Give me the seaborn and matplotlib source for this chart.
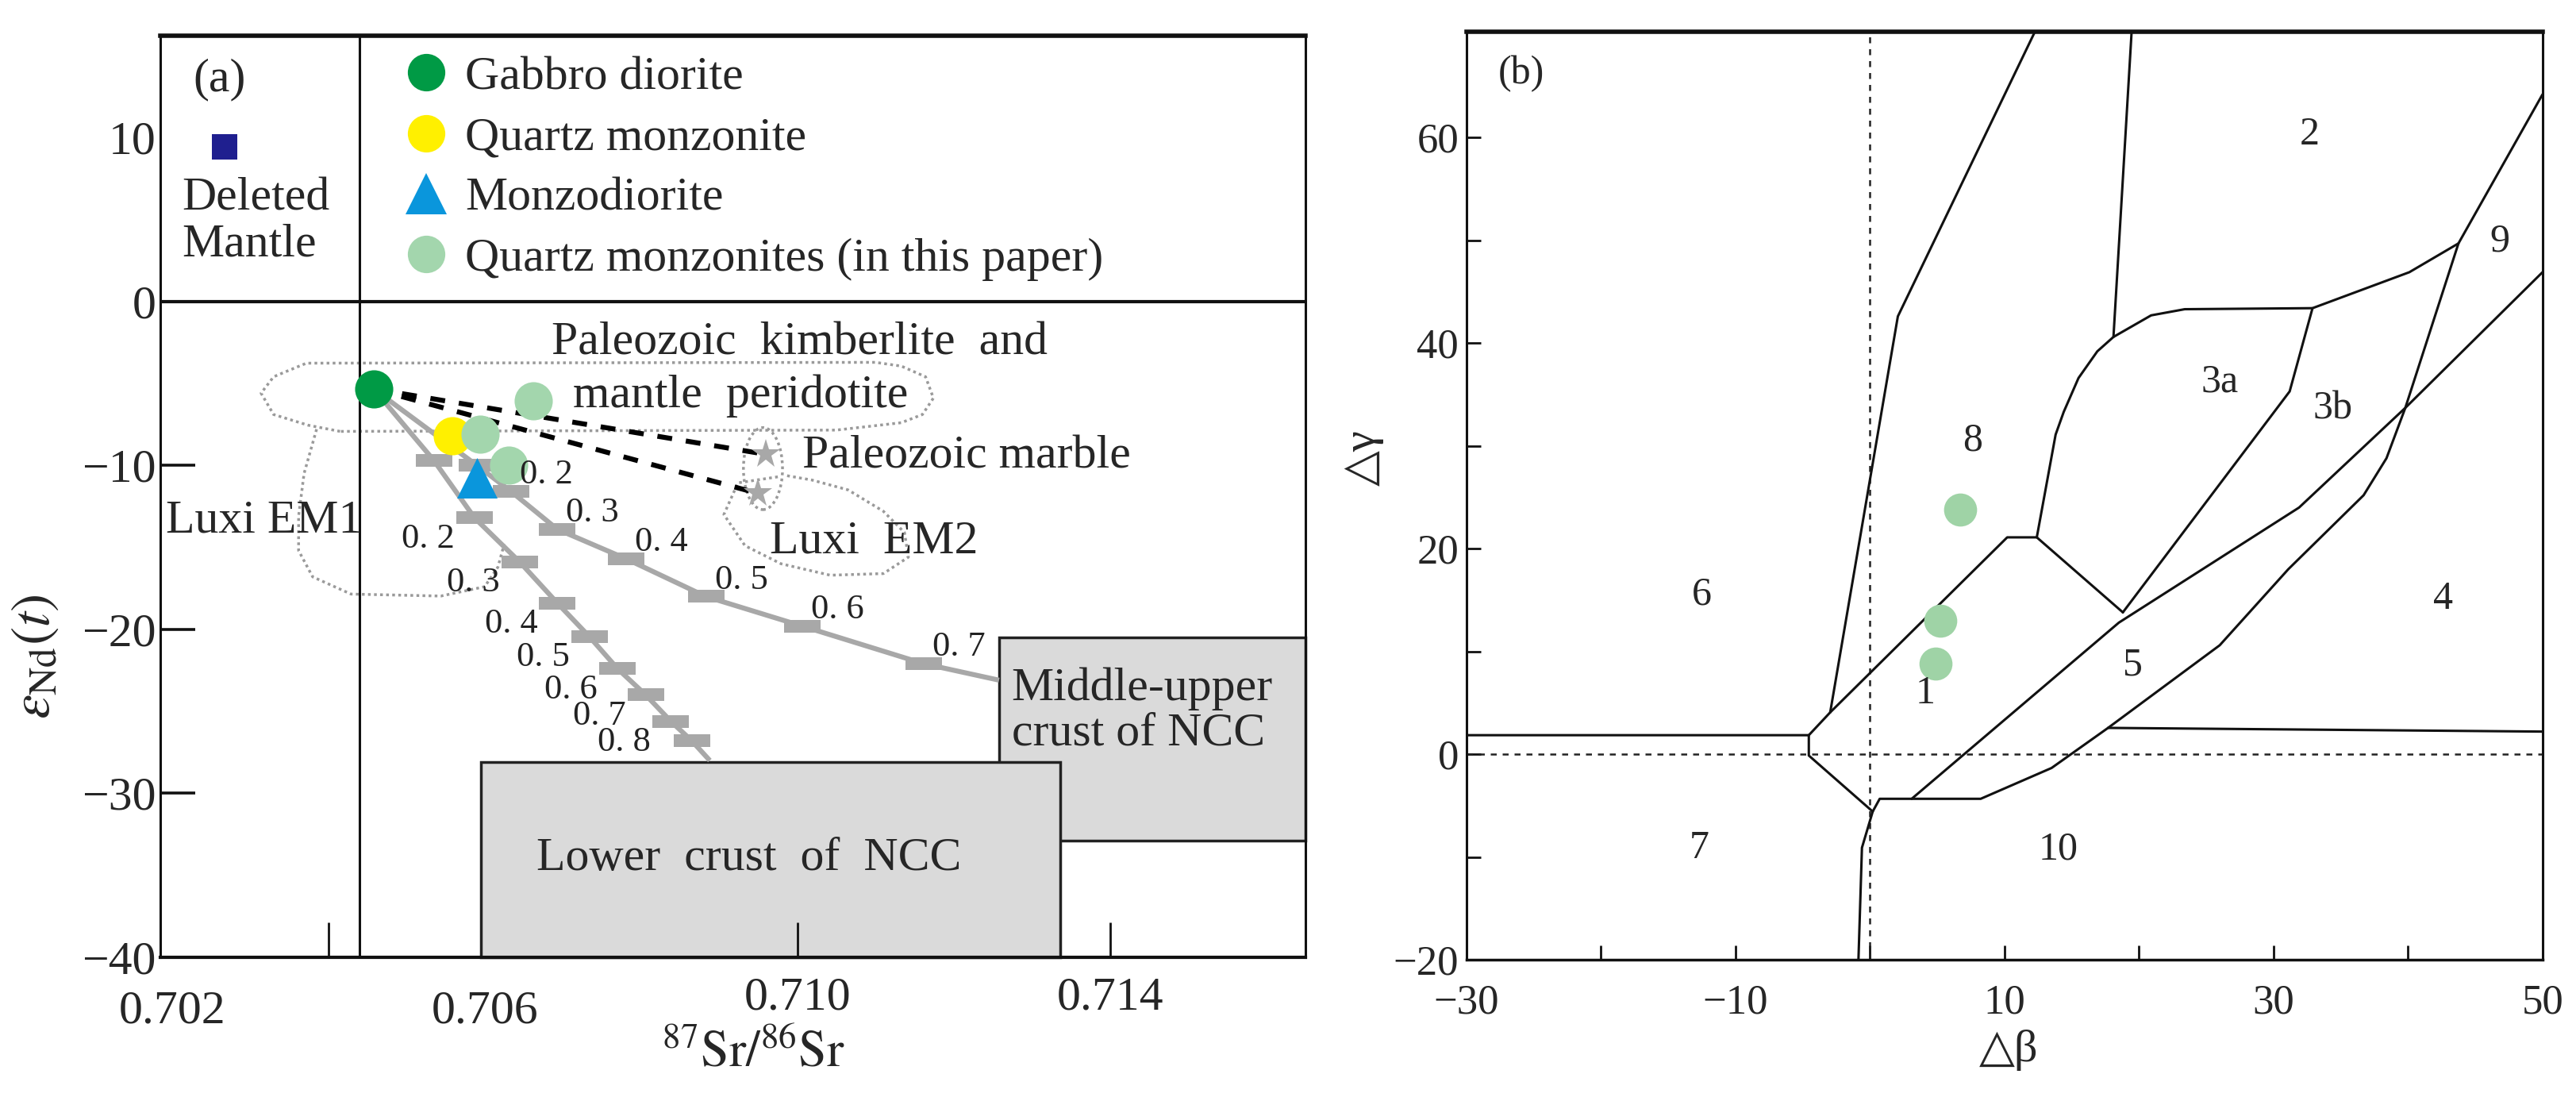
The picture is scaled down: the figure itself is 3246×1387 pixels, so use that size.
import matplotlib
matplotlib.use('Agg')
import matplotlib.pyplot as plt
from matplotlib.lines import Line2D
from matplotlib.patches import Rectangle, Ellipse
import pandas as pd
import seaborn as sns

# ---------------- (a) Sr-Nd isotope data ----------------
rock_names = ['Gabbro diorite', 'Quartz monzonite', 'Monzodiorite',
              'Quartz monzonites (in this paper)']
rock_colors = ['#009a45', '#fff000', '#0a96dc', '#a3d6ad']
rock_markers = ['o', 'o', '^', 'o']

sample_rock = ['Gabbro diorite', 'Quartz monzonite', 'Monzodiorite',
               'Quartz monzonites (in this paper)',
               'Quartz monzonites (in this paper)',
               'Quartz monzonites (in this paper)']
sample_sr = [0.70458, 0.70559, 0.70590, 0.70594, 0.70631, 0.70662]
sample_nd = [-5.34, -8.21, -10.78, -8.11, -9.97, -6.08]

dm_sr = [0.70267]          # depleted mantle
dm_nd = [9.4]

marble_sr = [0.70960, 0.70949]   # Paleozoic marble
marble_nd = [-9.33, -11.7]

# mixing curve towards middle-upper crust (markers f = 0.1 ... 0.7)
mix1_sr = [0.70458, 0.70590, 0.70634, 0.70693, 0.70781, 0.70883, 0.71006, 0.71162, 0.71258]
mix1_nd = [-5.34, -10.0, -11.6, -13.9, -15.7, -18.0, -19.8, -22.1, -23.1]
mix1_f = ['', '', '0. 2', '0. 3', '0. 4', '0. 5', '0. 6', '0. 7', '']

# mixing curve towards lower crust (markers f = 0.1 ... 0.9)
mix2_sr = [0.70458, 0.70535, 0.70587, 0.70645, 0.70693, 0.70734, 0.70770, 0.70806, 0.70838, 0.70865, 0.70888]
mix2_nd = [-5.34, -9.7, -13.2, -15.9, -18.4, -20.45, -22.4, -24.0, -25.6, -26.8, -28.0]
mix2_f = ['', '', '0. 2', '0. 3', '0. 4', '0. 5', '0. 6', '0. 7', '0. 8', '', '']

# end-member boxes
lower_crust_sr = [0.70595, 0.71336]
lower_crust_nd = [-40, -28.1]
mid_crust_sr = [0.71258, 0.7165]
mid_crust_nd = [-32.9, -20.5]

# dotted fields
kimb_sr = [0.70415, 0.70374, 0.70330, 0.70314, 0.70330, 0.70345, 0.70372, 0.7110,
           0.71133, 0.71164, 0.71174, 0.71160, 0.71133, 0.7105, 0.70415]
kimb_nd = [-7.93, -7.55, -6.9, -5.6, -4.6, -4.3, -3.77, -3.72,
           -3.95, -4.6, -5.9, -6.9, -7.4, -7.85, -7.93]
em1_sr = [0.70385, 0.70369, 0.70362, 0.70362, 0.70380, 0.70429, 0.70544, 0.70600, 0.70617, 0.70625]
em1_nd = [-7.8, -10.5, -13.1, -15.2, -16.8, -17.85, -17.97, -17.4, -16.2, -14.8]
em2_sr = [0.70975, 0.70924, 0.70906, 0.70933, 0.70979, 0.71042, 0.71110, 0.71142,
          0.71137, 0.71110, 0.71065, 0.71019, 0.70983]
em2_nd = [-10.7, -11.07, -13.0, -14.9, -16.0, -16.7, -16.6, -15.6,
          -14.1, -12.8, -11.5, -10.9, -10.6]
marble_field_center = (0.70956, -10.2)
marble_field_size = (0.0005, 5.0)

sr_ticks = [0.702, 0.706, 0.710, 0.714]
sr_marked = [0.704, 0.710, 0.714]
nd_ticks = [10, 0, -10, -20, -30, -40]
nd_marked = [-10, -20, -30]

# ---------------- (b) Δβ-Δγ diagram ----------------
pb_dbeta = [6.7, 5.2, 4.9]
pb_dgamma = [23.8, 13.0, 8.8]

line_8_6 = [(12.26, 70.3), (2.07, 42.6), (-2.96, 4.07)]
line_1_top = [(-4.55, 1.85), (-2.96, 4.07), (10.2, 21.1), (12.4, 21.1), (18.8, 13.8)]
line_8_3a = [(12.4, 21.1), (13.8, 31.1), (14.4, 33.3), (15.5, 36.6), (16.9, 39.2), (18.1, 40.6),
             (20.9, 42.7), (23.4, 43.3), (32.9, 43.4), (40.1, 46.9), (43.75, 49.7)]
line_2_8 = [(19.45, 70.3), (18.1, 40.6)]
line_3a_3b = [(32.9, 43.4), (31.2, 35.3), (18.8, 13.8)]
line_5_top = [(3.1, -4.34), (18.5, 12.8), (31.9, 24.0), (39.8, 33.7), (50.0, 46.9)]
line_5_low = [(0.2, -5.58), (0.72, -4.34), (8.23, -4.34), (13.5, -1.34), (17.7, 2.56),
              (26.0, 10.6), (31.1, 18.0), (36.7, 25.2), (38.4, 28.8), (39.8, 33.7),
              (43.75, 49.7), (50.0, 64.2)]
line_4_low = [(17.7, 2.56), (50.0, 2.2)]
line_6_7 = [(-30.0, 1.85), (-4.55, 1.85), (-4.55, -0.13), (0.2, -5.58), (-0.6, -9.1), (-0.86, -20.0)]
b_lines = [line_8_6, line_1_top, line_8_3a, line_2_8, line_3a_3b,
           line_5_top, line_5_low, line_4_low, line_6_7]

region_labels = [('2', 32.7, 60.3), ('9', 46.8, 49.9), ('3a', 26.0, 36.2), ('3b', 34.4, 33.6),
                 ('8', 7.6, 30.5), ('6', -12.5, 15.5), ('4', 42.6, 15.1), ('1', 4.1, 5.9),
                 ('5', 19.55, 8.66), ('7', -12.7, -9.2), ('10', 14.0, -9.27)]

beta_ticks = [-30, -10, 10, 30, 50]
beta_minor = [-20, 0, 20, 40]
gamma_ticks = [60, 40, 20, 0, -20]
gamma_minor = [50, 30, 10, -10]

# ---------------- style ----------------
sns.set_style('ticks')
plt.rcParams['font.family'] = ['Liberation Serif', 'DejaVu Sans']
plt.rcParams['mathtext.fontset'] = 'stix'

FS = 43
GRAY = '#a8a8a8'
DOT = '#9a9a9a'

fig = plt.figure(figsize=(32.46, 13.87), dpi=100)
ax = fig.add_axes([0.0622, 0.1305, 0.4446, 0.8371])
bx = fig.add_axes([0.5693, 0.1283, 0.4177, 0.8429])

# ================= panel (a) =================
ax.set_xlim(0.70185, 0.7165)
ax.set_ylim(-40, 16.2)
ax.set_axisbelow(False)

# dotted fields
ax.plot(kimb_sr, kimb_nd, ls=(0, (1, 1.2)), color=DOT, lw=2.5, zorder=1)
ax.plot(em1_sr, em1_nd, ls=(0, (1, 1.2)), color=DOT, lw=2.5, zorder=1)
ax.plot(em2_sr, em2_nd, ls=(0, (1, 1.2)), color=DOT, lw=2.5, zorder=1)
ax.add_patch(Ellipse(marble_field_center, marble_field_size[0], marble_field_size[1],
                     fill=False, ls=(0, (1, 1.2)), ec=DOT, lw=2.5, zorder=1))

# crust boxes
ax.add_patch(Rectangle((mid_crust_sr[0], mid_crust_nd[0]), mid_crust_sr[1] - mid_crust_sr[0],
                       mid_crust_nd[1] - mid_crust_nd[0], fc='#dadada', ec='#222222',
                       lw=2.5, zorder=2, clip_on=False))
ax.add_patch(Rectangle((lower_crust_sr[0], lower_crust_nd[0]), lower_crust_sr[1] - lower_crust_sr[0],
                       lower_crust_nd[1] - lower_crust_nd[0], fc='#dadada', ec='#222222',
                       lw=2.5, zorder=2.1, clip_on=False))

# frame lines
ax.axvline(0.7044, color='#111111', lw=2.2, zorder=2.5)
ax.axhline(0, color='#111111', lw=3, zorder=2.5)

# mixing curves
rect_marker = [(-1.5, -0.5), (1.5, -0.5), (1.5, 0.5), (-1.5, 0.5), (-1.5, -0.5)]
for xs, ys, labs, off in [(mix1_sr, mix1_nd, mix1_f, (32, 15)),
                          (mix2_sr, mix2_nd, mix2_f, (-42, -19))]:
    ax.plot(xs, ys, color=GRAY, lw=4.5, zorder=3, solid_capstyle='butt')
    ax.plot(xs[1:-1], ys[1:-1], ls='', marker=rect_marker, markersize=33,
            color=GRAY, markeredgewidth=0, zorder=3.1)
    for x, y, lab in zip(xs, ys, labs):
        if lab:
            ax.annotate(lab, (x, y), xytext=off, textcoords='offset points',
                        ha='center', va='center', fontsize=32, color='#222222', zorder=6)

# dashed mixing lines to marble
for sx, sy in zip(marble_sr, marble_nd):
    ax.plot([sample_sr[0], sx], [sample_nd[0], sy], color='black', lw=4.5,
            ls=(0, (3.0, 2.8)), zorder=4)
ax.plot(marble_sr, marble_nd, ls='', marker='*', markersize=28, color=GRAY,
        markeredgewidth=0, zorder=4.5)

# samples
df_a = pd.DataFrame({'sr': sample_sr, 'nd': sample_nd, 'rock': sample_rock})
for name, col, mk in zip(rock_names, rock_colors, rock_markers):
    sub = df_a[df_a['rock'] == name]
    sns.scatterplot(data=sub, x='sr', y='nd', ax=ax, color=col, marker=mk,
                    s=1350 if mk == '^' else 1200, linewidth=0, zorder=5, legend=False)
sns.scatterplot(x=dm_sr, y=dm_nd, ax=ax, color='#1f1f8f', marker='s', s=560,
                linewidth=0, zorder=5, legend=False)

# legend
handles = [Line2D([], [], ls='', marker=mk, color=col, markeredgewidth=0,
                  markersize=37 if mk == '^' else 34)
           for col, mk in zip(rock_colors, rock_markers)]
ax.legend(handles, rock_names, loc='upper left', bbox_to_anchor=(0.2114, 0.978),
          frameon=False, fontsize=FS, handlelength=1.0, handletextpad=0.32,
          borderpad=0, borderaxespad=0, labelspacing=0.36)

# annotations
ax.text(0.70261, 13.5, '(a)', fontsize=FS, ha='center', va='center')
ax.text(0.70213, 4.86, 'Deleted\nMantle', fontsize=FS, ha='left', va='center', linespacing=1.1)
ax.text(0.70686, -2.55, 'Paleozoic  kimberlite  and', fontsize=FS, ha='left', va='center')
ax.text(0.70713, -5.79, 'mantle  peridotite', fontsize=FS, ha='left', va='center')
ax.text(0.71006, -9.46, 'Paleozoic marble', fontsize=FS, ha='left', va='center')
ax.text(0.70965, -14.64, 'Luxi  EM2', fontsize=FS, ha='left', va='center')
ax.text(0.70192, -13.4, 'Luxi EM1', fontsize=FS, ha='left', va='center')
ax.text(0.70938, -34.0, 'Lower  crust  of  NCC', fontsize=FS, ha='center', va='center', zorder=6)
ax.text(0.71274, -25.0, 'Middle-upper\ncrust of NCC', fontsize=FS, ha='left', va='center',
        linespacing=1.05, zorder=6)

# axes: labels on major ticks, inward marks on minor x ticks
ax.xaxis.remove_overlapping_locs = False
ax.set_xticks(sr_ticks)
ax.set_xticklabels(['%.3f' % t for t in sr_ticks])
ax.set_xticks(sr_marked, minor=True)
ax.set_yticks(nd_ticks)
ax.tick_params(axis='both', which='major', length=0, labelsize=FS)
ax.tick_params(axis='x', which='major', pad=18)
ax.tick_params(axis='y', which='major', pad=4)
ax.tick_params(axis='x', which='minor', direction='in', length=32, width=2,
               color='#111111', bottom=True, top=False)
for t in ax.xaxis.get_major_ticks()[:2]:
    t.set_pad(30)
# inward y tick marks as short segments on the left spine
ax.hlines(nd_marked, 0, 0.0308, transform=ax.get_yaxis_transform(),
          color='#111111', lw=2.6, zorder=6)
ax.set_xlabel(r'$^{87}\mathrm{Sr}/^{86}\mathrm{Sr}$', fontsize=46)
ax.xaxis.set_label_coords(0.518, -0.08)
ax.set_ylabel(r'$\varepsilon_{\mathrm{Nd}}(t)$', fontsize=50)
ax.yaxis.set_label_coords(-0.087, 0.326)
for side, lw in [('top', 4), ('bottom', 3), ('left', 2.2), ('right', 2.2)]:
    ax.spines[side].set_linewidth(lw)
    ax.spines[side].set_color('#111111')
    ax.spines[side].set_zorder(7)

# ================= panel (b) =================
bx.set_xlim(-30, 50)
bx.set_ylim(-20, 70.3)
bx.axvline(0, color='#222222', lw=1.8, ls=(0, (3, 3)), zorder=1)
bx.axhline(0, color='#222222', lw=1.8, ls=(0, (3, 3)), zorder=1)
for seg in b_lines:
    xs, ys = zip(*seg)
    bx.plot(xs, ys, color='#111111', lw=2.2, zorder=2)
sns.scatterplot(x=pb_dbeta, y=pb_dgamma, ax=bx, color='#9fd3a6', s=900,
                linewidth=0, zorder=3, legend=False)
for lab, x, y in region_labels:
    bx.text(x, y, lab, fontsize=36, ha='center', va='center')
bx.text(-25.9, 66.2, '(b)', fontsize=36, ha='center', va='center')

bx.set_xticks(beta_ticks)
bx.set_xticks(beta_minor, minor=True)
bx.set_yticks(gamma_ticks)
bx.set_yticks(gamma_minor, minor=True)
bx.tick_params(axis='both', which='both', direction='in', length=13, width=2, color='#111111')
bx.tick_params(axis='both', which='major', labelsize=38)
bx.tick_params(axis='x', which='both', pad=22)
bx.tick_params(axis='y', which='both', pad=7)
bx.set_xlabel('△β', fontsize=42)
bx.xaxis.set_label_coords(0.504, -0.075)
bx.set_ylabel('△γ', fontsize=42)
bx.yaxis.set_label_coords(-0.077, 0.541)
for side, lw in [('top', 4), ('bottom', 2.5), ('left', 2.2), ('right', 2.2)]:
    bx.spines[side].set_linewidth(lw)
    bx.spines[side].set_color('#111111')

fig.savefig('out.png', dpi=100, facecolor='white')
